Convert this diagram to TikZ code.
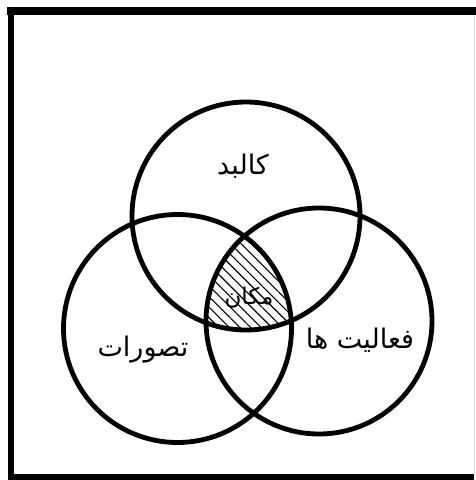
\documentclass[tikz,border=0pt]{standalone}
\usepackage{fontspec}
\usetikzlibrary{patterns.meta}
\newfontfamily\arabicfont[Script=Arabic]{DejaVu Sans}
\TeXXeTstate=1
\begin{document}
\begin{tikzpicture}[x=1pt,y=-1pt,
  ring/.style={draw=black,line width=4.8pt,circle,inner sep=0pt,minimum size=228pt},
  lbl/.style={font=\arabicfont\fontsize{27}{32}\selectfont,inner sep=0pt},
  frameline/.style={draw=black,line cap=rect}]
\useasboundingbox (0,0) rectangle (475,480);
\fill[white] (0,0) rectangle (475,480);
% frame
\draw[frameline,line width=6pt] (11,476.5) -- (11,11);
\draw[frameline,line width=8pt] (11,10.5) -- (473,10.5);
\draw[frameline,line width=6pt] (11,476.5) -- (471,476.5);
\draw[gray!25,line width=0.8pt] (474,15) -- (474,473);
% hatched common region
\begin{scope}
  \clip (246,216) circle (114);
  \clip (177.5,328.5) circle (114);
  \fill[pattern={Lines[angle=-45,distance=7.5pt,line width=1.1pt]}] (319,321) circle (113);
\end{scope}
% circles
\node[ring] (kalbad) at (246,216) {};
\node[ring] (tasavorat) at (177.5,328.5) {};
\node[ring,minimum size=226pt] (faaliyat) at (319,321) {};
% labels
\node[lbl] (t1) at (243,166) {\beginR کالبد\endR};
\node[lbl] (t2) at (143,350) {\beginR تصورات\endR};
\node[lbl] (t3) at (360,340) {\beginR فعالیت ها\endR};
\node[lbl,font=\arabicfont\fontsize{23}{28}\selectfont] (t4) at (249,298) {\beginR مکان\endR};
\end{tikzpicture}
\end{document}
